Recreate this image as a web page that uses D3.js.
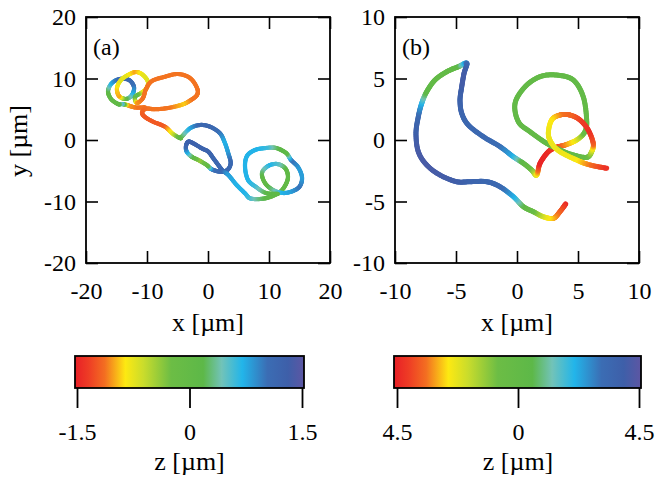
<!DOCTYPE html>
<html><head><meta charset="utf-8">
<script src="https://cdn.jsdelivr.net/npm/d3@7"></script>
<style>
body{margin:0;background:#fff;}
svg{display:block;}
svg text{font-family:"Liberation Serif","Times New Roman",serif;}
</style></head><body>
<svg id="c" width="664" height="488"></svg>
<script>
// ---------- data ----------
// panel (a): trajectory, x/y/z in µm
const aX = [-10.33,-11.97,-13.28,-14.1,-14.75,-15.90,-16.39,-15.74,-14.43,-12.95,-12.13,-12.46,-13.44,-14.59,-14.92,-14.26,-13.11,-11.80,-10.66,-9.84,-10.16,-10.98,-11.97,-11.64,-10.66,-10.16,-9.18,-7.05,-4.92,-2.95,-1.80,-1.80,-2.95,-4.26,-6.56,-8.69,-10.16,-10.82,-10.33,-9.02,-7.05,-5.74,-4.59,
  -4.31,-2.95,-1.31,0.33,1.97,2.79,3.33,3.72,3.16,1.97,0.61,-0.21,-1.59,-2.67,-3.49,-3.61,-3.23,-2.41,-1.03,0.05,0.87,1.69,2.41,3.33,4.70,6.07,6.89,
  8.52,10.16,11.80,12.79,13.11,12.62,11.31,9.84,8.85,9.34,10.66,12.30,13.93,15.08,15.41,14.75,13.61,12.79,11.15,9.51,7.70,6.39,6.07,6.56,7.87,9.51,11.48];
const aY = [5.30,5.30,5.69,5.85,5.85,6.67,7.97,9.27,9.92,9.76,8.62,7.32,6.67,7.15,8.46,9.76,10.57,11.06,10.57,9.43,8.29,7.64,6.99,6.02,6.83,8.29,9.59,10.29,10.73,10.08,8.46,7.32,6.40,5.75,5.20,5.00,5.10,4.45,3.74,2.98,2.16,0.98,0.33,
  0.54,1.90,2.44,2.16,1.09,-0.54,-2.16,-3.79,-4.88,-5.15,-4.76,-4.07,-3.25,-2.72,-1.90,-0.98,-0.28,-0.54,-1.35,-1.90,-2.98,-4.07,-4.99,-5.69,-7.32,-8.67,-9.48,
  -9.59,-9.27,-8.46,-7.15,-5.85,-4.55,-3.90,-4.23,-5.37,-6.99,-8.13,-8.62,-8.29,-7.48,-6.02,-4.39,-3.25,-2.10,-1.30,-1.30,-1.63,-2.60,-4.39,-6.50,-7.64,-8.62,-8.78];
const aZ = [-1.1,-1.1,-1.0,0.6,0.1,0.0,0.1,0.7,1.1,1.1,1.0,0.7,0.2,-1.0,-0.9,-0.7,-0.75,-1.0,-0.75,-0.7,-0.7,-0.75,0.3,-1.0,-1.1,-1.1,-1.1,-1.1,-1.1,-1.1,-1.1,-1.1,-1.1,-0.9,-1.1,-1.1,-1.1,-1.15,-1.2,-1.2,-1.2,-0.7,0.0,
  0.1,0.7,1.1,1.15,1.0,0.7,0.8,1.1,1.1,1.1,1.0,0.0,-0.4,0.1,0.7,1.1,1.2,1.25,1.2,1.2,1.15,1.1,1.1,0.8,0.7,0.7,0.6,
  0.3,0.1,0.0,0.0,0.05,0.1,0.5,0.7,0.3,0.0,0.3,0.7,0.8,1.0,0.8,0.8,1.0,0.1,0.2,0.6,0.7,0.7,0.7,0.7,0.6,0.2,0.1];

// panel (b)
const bX = [3.99,3.52,2.98,2.16,1.34,0.52,-0.30,-1.39,-2.48,-3.85,-4.94,-6.31,-7.40,-8.09,-8.28,-8.09,-7.81,-7.40,-6.72,-5.76,-4.81,-4.12,
  -4.34,-4.53,-4.67,-4.53,-3.99,-2.76,-1.39,-0.30,0.52,1.20,1.61,
  1.89,2.57,3.25,3.93,4.89,5.57,
  5.71,5.43,4.61,3.25,1.89,0.66,-0.16,0.11,1.07,2.43,3.52,4.61,5.71,6.12,6.25,5.84,5.16,4.34,3.52,2.84,2.57,2.84,3.52,4.89,5.98,7.35];
const bY = [-5.20,-5.83,-6.37,-6.24,-5.83,-5.42,-4.61,-3.80,-3.39,-3.39,-3.39,-2.85,-2.03,-0.95,0.54,1.89,2.98,3.93,4.88,5.55,5.96,6.24,
  5.42,4.33,3.25,2.17,1.22,0.27,-0.54,-1.36,-1.89,-2.44,-2.85,
  -1.89,-0.95,-0.59,-0.41,0.0,0.67,
  1.63,3.52,4.88,5.28,5.15,4.33,2.98,1.49,0.67,-0.27,-0.81,-1.22,-1.41,-0.95,-0.27,0.81,1.63,2.03,2.03,1.63,0.54,-0.27,-0.95,-1.63,-2.03,-2.30];
const bZ = [-4.4,-3.6,-3.0,-2.2,-0.8,0.2,2.0,3.2,3.4,3.5,3.9,4.0,4.1,4.1,3.9,3.4,2.2,0.4,0.0,0.0,0.2,3.0,
  4.0,4.0,3.7,3.5,3.4,3.3,3.1,2.2,0.3,-0.6,-2.2,
  -4.4,-4.3,-4.0,-3.3,-2.3,-0.4,
  0.0,0.0,0.0,0.0,0.0,0.0,0.0,0.0,0.0,0.0,0.0,0.0,-0.2,-1.5,-3.5,-4.2,-4.0,-3.5,-3.3,-2.6,-2.3,-2.3,-2.3,-2.4,-3.2,-4.2];

// axes
const aTicks = [-20,-10,0,10,20];
const bTicks = [-10,-5,0,5,10];
const cbATicks = [-1.5,0,1.5];
const cbALabels = ["-1.5","0","1.5"];
const cbBTicks = [-4.5,0,4.5];
const cbBLabels = ["4.5","0","4.5"];

// colormap (fraction of range -> colour)
const cmapStops  = [0, 0.06, 0.13, 0.22, 0.30, 0.42, 0.56, 0.64, 0.73, 0.84, 0.93, 1];
const cmapColors = ["#e81f27","#ee3d25","#f36e21","#fde912","#c9dc2c","#6cbd45","#5db848","#72c3b8","#22b5ea","#3b6db4","#3e5fa9","#5d56a3"];

// ---------- drawing ----------
const svg = d3.select("#c");
const TICKFONT = 24, LABFONT = 26;

function colorFor(zmax){
  return d3.scaleLinear()
    .domain(cmapStops.map(s => -zmax + 2*zmax*s))
    .range(cmapColors)
    .interpolate(d3.interpolateRgb)
    .clamp(true);
}

function styleTicks(a){
  a.attr("font-family",null);
  a.selectAll(".tick text").attr("font-size",TICKFONT).attr("fill","#000")
    .style("font-family","'Liberation Serif','Times New Roman',serif");
}

function panel(opt){
  const g = svg.append("g");
  const x = d3.scaleLinear().domain(opt.dom).range([opt.x0, opt.x1]);
  const y = d3.scaleLinear().domain(opt.dom).range([opt.y1, opt.y0]);
  const col = colorFor(opt.zmax);

  // trajectory, Catmull-Rom sampled, coloured by z
  const P = opt.X.map((v,i)=>[x(v), y(opt.Y[i]), opt.Z[i]]);
  const tg = g.append("g").attr("stroke-linecap","round").attr("fill","none");
  const n = P.length;
  const segs = [];
  for(let i=0;i<n-1;i++){
    const p0=P[Math.max(i-1,0)], p1=P[i], p2=P[i+1], p3=P[Math.min(i+2,n-1)];
    const steps=10;
    let prev=[p1[0],p1[1]];
    for(let s=1;s<=steps;s++){
      const t=s/steps, t2=t*t, t3=t2*t;
      const cr=(a,b,c,d)=>0.5*((2*b)+(-a+c)*t+(2*a-5*b+4*c-d)*t2+(-a+3*b-3*c+d)*t3);
      const q=[cr(p0[0],p1[0],p2[0],p3[0]), cr(p0[1],p1[1],p2[1],p3[1])];
      const z=p1[2]+(p2[2]-p1[2])*(t-0.5/steps);
      segs.push({a:prev,b:q,z:z});
      prev=q;
    }
  }
  tg.selectAll("line").data(segs).join("line")
    .attr("x1",d=>d.a[0]).attr("y1",d=>d.a[1])
    .attr("x2",d=>d.b[0]).attr("y2",d=>d.b[1])
    .attr("stroke",d=>col(d.z))
    .attr("stroke-width",opt.lw);

  // axes with inward ticks
  const T = 12;
  const ax = (gen, tx, ty, lab) => {
    const a = g.append("g").attr("transform",`translate(${tx},${ty})`)
      .call(gen.tickValues(opt.ticks).tickSizeInner(-T).tickSizeOuter(0).tickPadding(lab?19:0).tickFormat(lab? (d=>String(d)) : ()=>""));
    a.select(".domain").remove();
    a.selectAll(".tick line").attr("stroke","#000").attr("stroke-width",1.6);
    styleTicks(a);
    return a;
  };
  ax(d3.axisBottom(x), 0, opt.y1, true);
  ax(d3.axisTop(x), 0, opt.y0, false);
  const yl = ax(d3.axisLeft(y), opt.x0, 0, true);
  yl.selectAll(".tick text").attr("x",-10);
  ax(d3.axisRight(y), opt.x1, 0, false);

  g.append("rect").attr("x",opt.x0).attr("y",opt.y0)
    .attr("width",opt.x1-opt.x0).attr("height",opt.y1-opt.y0)
    .attr("fill","none").attr("stroke","#000").attr("stroke-width",1.8);

  g.append("text").attr("x",opt.x0+7).attr("y",opt.y0+38)
    .attr("font-size",24).text(opt.label);

  g.append("text").attr("x",(opt.x0+opt.x1)/2).attr("y",331)
    .attr("text-anchor","middle").attr("font-size",LABFONT).text("x [µm]");
}

panel({X:aX,Y:aY,Z:aZ,dom:[-20,20],ticks:aTicks,x0:86,x1:330,y0:17,y1:263,zmax:1.5,lw:4.2,label:"(a)"});
panel({X:bX,Y:bY,Z:bZ,dom:[-10,10],ticks:bTicks,x0:395,x1:639,y0:17,y1:263,zmax:4.5,lw:5,label:"(b)"});

svg.append("text").attr("transform","translate(27,141) rotate(-90)")
  .attr("text-anchor","middle").attr("font-size",LABFONT).text("y [µm]");

// colour bars
const defs = svg.append("defs");
const grad = defs.append("linearGradient").attr("id","cmap").attr("x1","0%").attr("x2","100%");
grad.selectAll("stop").data(cmapStops).join("stop")
  .attr("offset",d=>d*100+"%").attr("stop-color",(d,i)=>cmapColors[i]);

function colorbar(x0,x1,tx0,tx1,ticks,labels,zmax){
  const y0=356,y1=388;
  svg.append("rect").attr("x",x0).attr("y",y0).attr("width",x1-x0).attr("height",y1-y0)
    .attr("fill","url(#cmap)").attr("stroke","#000").attr("stroke-width",1.8);
  const s = d3.scaleLinear().domain([-zmax,zmax]).range([tx0,tx1]);
  const a = svg.append("g").attr("transform",`translate(0,${y1})`)
    .call(d3.axisBottom(s).tickValues(ticks).tickSizeInner(20).tickSizeOuter(0).tickPadding(15)
      .tickFormat((d,i)=>labels[i]));
  a.select(".domain").remove();
  a.selectAll(".tick line").attr("stroke","#000").attr("stroke-width",1.8);
  styleTicks(a);
  svg.append("text").attr("x",s(0)).attr("y",470).attr("text-anchor","middle")
    .attr("font-size",LABFONT).text("z [µm]");
}
colorbar(75,304,77,302,cbATicks,cbALabels,1.5);
colorbar(394,641,397,639,cbBTicks,cbBLabels,4.5);
</script>
</body></html>
